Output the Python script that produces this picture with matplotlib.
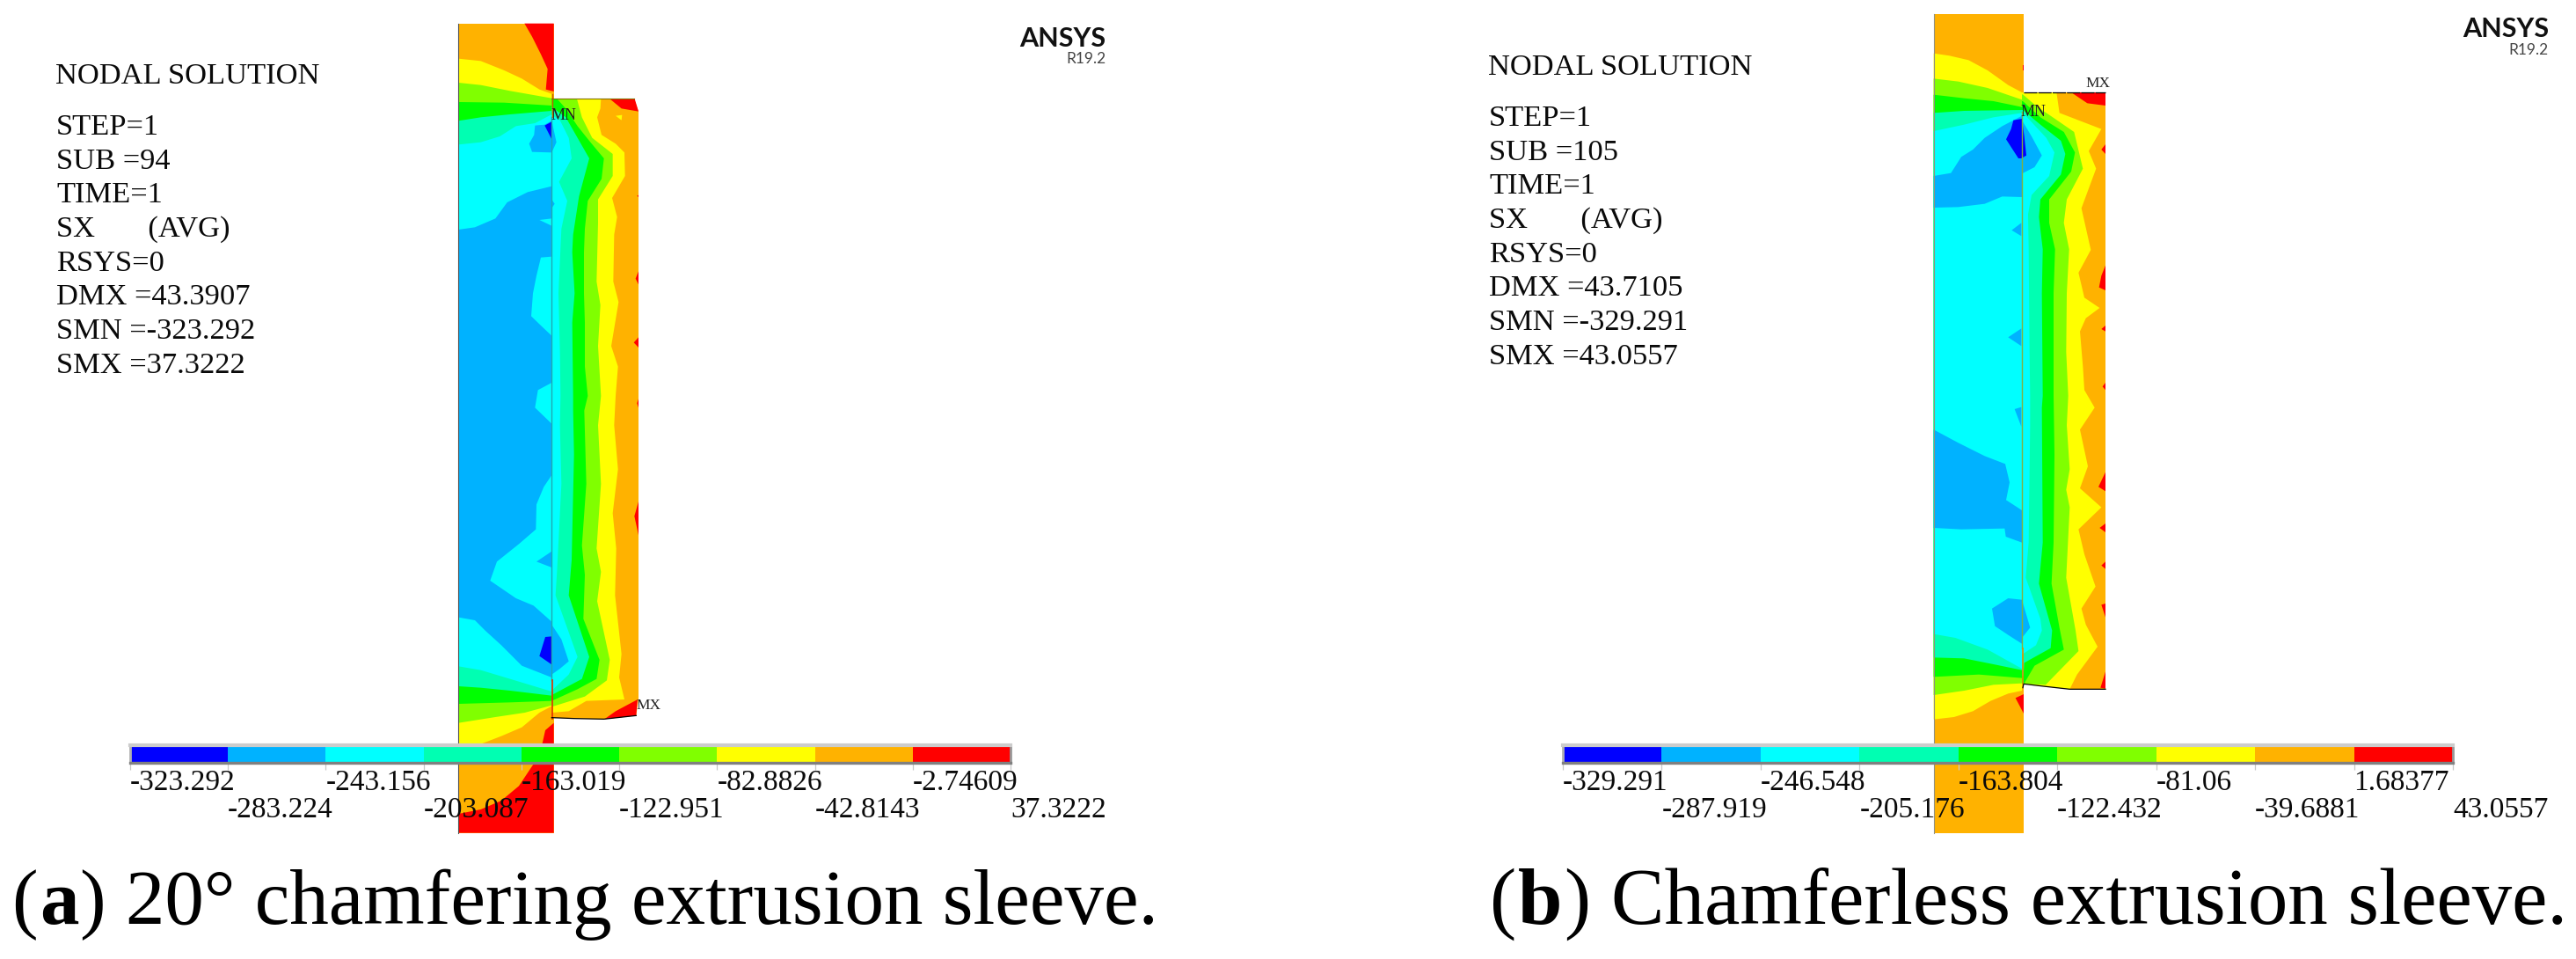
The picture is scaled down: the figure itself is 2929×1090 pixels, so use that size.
import matplotlib
matplotlib.use("Agg")
import matplotlib.pyplot as plt
from matplotlib.patches import Polygon

W, H = 2929, 1090

# contour colours, low to high
BLUE, AZURE, CYAN, SPRING = "#0000FF", "#00B2FF", "#00FFFF", "#00FFB2"
GREEN, LIME, YELLOW, ORANGE, RED = "#00FF00", "#80FF00", "#FFFF00", "#FFB200", "#FF0000"
band_colors = [BLUE, AZURE, CYAN, SPRING, GREEN, LIME, YELLOW, ORANGE, RED]

# colour bar values
levels_a = [-323.292, -283.224, -243.156, -203.087, -163.019, -122.951, -82.8826, -42.8143, -2.74609, 37.3222]
labels_a = ["-323.292", "-283.224", "-243.156", "-203.087", "-163.019", "-122.951", "-82.8826", "-42.8143", "-2.74609", "37.3222"]
levels_b = [-329.291, -287.919, -246.548, -205.176, -163.804, -122.432, -81.06, -39.6881, 1.68377, 43.0557]
labels_b = ["-329.291", "-287.919", "-246.548", "-205.176", "-163.804", "-122.432", "-81.06", "-39.6881", "1.68377", "43.0557"]

# solution text
info_a = ["STEP=1", "SUB =94", "TIME=1", "SX       (AVG)", "RSYS=0", "DMX =43.3907", "SMN =-323.292", "SMX =37.3222"]
info_b = ["STEP=1", "SUB =105", "TIME=1", "SX       (AVG)", "RSYS=0", "DMX =43.7105", "SMN =-329.291", "SMX =43.0557"]

# ---- panel a, contour outlines (model units) ----
a_left_block = [(124, 80), (449, 80), (449, 2840), (124, 2840)]
a_left_yellow = [(124, 200), (200, 208), (280, 240), (340, 268), (400, 305), (442, 320),
                 (442, 2408), (400, 2430), (340, 2480), (270, 2510), (205, 2535), (124, 2560)]
a_left_lime = [(124, 282), (200, 290), (300, 310), (442, 335),
               (442, 2405), (350, 2430), (250, 2445), (124, 2465)]
a_left_green = [(124, 348), (280, 350), (442, 360), (442, 2390), (300, 2395), (124, 2400)]
a_left_spring = [(124, 412), (200, 400), (300, 390), (442, 378),
                 (442, 2372), (300, 2355), (200, 2345), (124, 2340)]
a_left_cyan = [(124, 493), (200, 485), (265, 465), (320, 430), (385, 420), (442, 390),
               (442, 2358), (300, 2315), (200, 2285), (124, 2272)]
a_left_azure = [(124, 783), (180, 775), (250, 745), (290, 690), (360, 655), (442, 635), (442, 2310),
                (340, 2270), (270, 2200), (215, 2150), (180, 2115), (124, 2105)]
a_cyan_islands = [
    [(400, 750), (442, 745), (442, 770)],
    [(405, 878), (442, 875), (442, 1145), (405, 1110), (372, 1078), (378, 1000), (390, 940)],
    [(395, 1330), (442, 1305), (442, 1445), (385, 1390)],
    [(442, 1620), (415, 1660), (390, 1720), (388, 1805), (330, 1855), (255, 1915), (232, 1980),
     (320, 2040), (380, 2065), (442, 2120)],
]
a_azure_spots = [
    [(442, 1880), (390, 1915), (442, 1935)],
    [(385, 428), (418, 425), (442, 412), (458, 485), (442, 520), (375, 518), (365, 490), (382, 460)],
    [(442, 2130), (475, 2180), (500, 2255), (470, 2280), (442, 2300)],
    [(442, 680), (452, 695), (442, 710)],
]
a_blue_spots = [
    [(418, 428), (442, 415), (442, 475)],
    [(420, 2172), (442, 2170), (442, 2266), (400, 2237)],
]
a_left_red = [
    [(349, 80), (449, 80), (449, 312), (422, 305), (428, 235), (405, 185), (375, 125)],
    [(449, 2465), (420, 2490), (410, 2535), (380, 2605), (330, 2680), (270, 2730), (200, 2760),
     (124, 2775), (124, 2840), (449, 2840)],
]
a_right_block = [(442, 337), (723, 337), (738, 380), (738, 2385), (730, 2440), (620, 2452), (520, 2450), (442, 2447)]
a_right_yellow = [(610, 337), (608, 370), (597, 400), (612, 460), (660, 490), (690, 520), (692, 600), (648, 675),
                  (665, 740), (655, 800), (652, 960), (670, 1030), (645, 1180), (668, 1250), (660, 1350), (655, 1450),
                  (668, 1600), (650, 1750), (662, 1870), (658, 2030), (680, 2230), (672, 2310), (690, 2385),
                  (560, 2390), (500, 2425), (443, 2430)]
a_right_lime = [(528, 337), (545, 400), (580, 470), (650, 525), (650, 600), (600, 680), (600, 760), (595, 960),
                (608, 1040), (600, 1180), (610, 1350), (600, 1450), (610, 1650), (595, 1870), (610, 1950),
                (597, 2050), (640, 2250), (630, 2320), (555, 2375), (442, 2410)]
a_right_green = [(460, 337), (490, 370), (530, 430), (570, 480), (620, 540), (612, 610), (565, 685), (555, 780),
                 (552, 860), (552, 1000), (555, 1100), (555, 1250), (565, 1350), (553, 1400), (560, 1650),
                 (545, 1860), (555, 1960), (550, 2110), (605, 2250), (595, 2315), (530, 2350), (442, 2390)]
a_right_spring = [(442, 365), (490, 400), (570, 540), (535, 670), (515, 800), (512, 860), (520, 1000), (512, 1100),
                  (515, 1350), (515, 1400), (518, 1550), (510, 1910), (500, 2030), (570, 2240), (545, 2315), (442, 2370)]
a_right_cyan = [(442, 392), (470, 410), (500, 470), (510, 540), (467, 620), (495, 685), (475, 780), (465, 1000),
                (470, 1200), (472, 1350), (470, 1450), (475, 1650), (460, 1950), (455, 2030), (530, 2240),
                (500, 2300), (442, 2355)]
a_right_red = [
    [(640, 337), (725, 337), (738, 380), (680, 370)],
    [(622, 2452), (660, 2425), (735, 2385), (730, 2440)],
    [(738, 925), (728, 950), (738, 970)],
    [(738, 1150), (722, 1168), (738, 1185)],
    [(738, 1710), (724, 1760), (738, 1825)],
    [(738, 665), (733, 668), (738, 672)],
    [(738, 1360), (733, 1375), (738, 1390)],
]
a_yellow_speck = [(660, 395), (682, 392), (680, 410)]

# ---- panel b ----
b_left_block = [(146, 48), (453, 48), (453, 2840), (146, 2840)]
b_left_yellow = [(146, 182), (200, 190), (265, 205), (330, 240), (400, 290), (447, 315),
                 (447, 2355), (400, 2365), (340, 2390), (280, 2425), (215, 2445), (146, 2453)]
b_left_lime = [(146, 268), (230, 278), (330, 300), (447, 340), (447, 2330), (350, 2335), (250, 2355), (146, 2370)]
b_left_green = [(146, 323), (250, 335), (350, 345), (447, 365), (447, 2312), (300, 2300), (146, 2308)]
b_left_spring = [(146, 385), (250, 378), (447, 375), (447, 2285), (350, 2265), (250, 2245), (146, 2242)]
b_left_cyan = [(146, 447), (250, 425), (350, 400), (447, 385), (447, 2280), (330, 2215), (220, 2175), (146, 2162)]
b_azure_spots = [
    [(447, 395), (380, 430), (320, 470), (280, 510), (240, 535), (205, 590), (146, 600), (146, 708),
     (230, 706), (320, 695), (380, 670), (447, 672)],
    [(445, 760), (412, 785), (445, 805)],
    [(445, 1120), (400, 1150), (445, 1180)],
    [(445, 1388), (422, 1395), (445, 1455)],
    [(146, 1465), (230, 1510), (320, 1555), (390, 1582), (405, 1645), (393, 1705), (447, 1740), (447, 1850),
     (392, 1830), (388, 1802), (240, 1805), (146, 1800)],
    [(400, 2040), (447, 2045), (475, 2140), (447, 2175), (447, 2195), (400, 2165), (355, 2135), (345, 2075)],
    [(447, 592), (490, 570), (515, 530), (480, 465), (447, 410)],
]
b_blue_spots = [[(418, 410), (447, 405), (455, 465), (462, 530), (445, 540), (435, 540), (393, 475), (410, 440)]]
b_left_red = [
    [(453, 222), (449, 222), (449, 240), (453, 240)],
    [(425, 2380), (453, 2367), (453, 2433)],
]
b_right_block = [(447, 315), (732, 315), (732, 2350), (610, 2350), (520, 2340), (453, 2332), (447, 2332)]
b_right_yellow = [(565, 315), (575, 385), (640, 410), (718, 440), (675, 515), (700, 575), (650, 710), (682, 852),
                  (640, 930), (660, 1015), (712, 1050), (665, 1085), (645, 1130), (655, 1250), (660, 1330),
                  (695, 1390), (645, 1465), (672, 1590), (645, 1665), (718, 1730), (640, 1805), (660, 1890),
                  (698, 2000), (650, 2075), (665, 2130), (705, 2205), (635, 2300), (610, 2350), (520, 2340), (453, 2332)]
b_right_lime = [(450, 322), (500, 365), (545, 395), (625, 450), (655, 575), (600, 680), (590, 760), (608, 850),
                (600, 1000), (598, 1200), (605, 1350), (600, 1450), (610, 1600), (598, 1670), (610, 1730),
                (598, 1970), (630, 2150), (640, 2220), (528, 2335), (453, 2332)]
b_right_green = [(450, 345), (510, 400), (590, 450), (628, 520), (615, 585), (540, 680), (540, 760), (560, 850),
                 (555, 1000), (555, 1350), (558, 1550), (555, 1850), (548, 1990), (575, 2140), (590, 2215),
                 (490, 2270), (455, 2330)]
b_right_spring = [(450, 375), (510, 425), (580, 480), (595, 525), (580, 595), (510, 680), (505, 740), (518, 850),
                  (515, 1000), (518, 1350), (515, 1390), (518, 1850), (505, 1990), (550, 2150), (545, 2210),
                  (455, 2260), (452, 2305)]
b_right_cyan = [(460, 395), (530, 470), (558, 520), (540, 600), (480, 665), (468, 730), (470, 850), (473, 1200),
                (475, 1350), (475, 1450), (470, 1850), (460, 1970), (510, 2110), (515, 2150), (495, 2200), (450, 2230)]
b_right_red = [
    [(615, 315), (732, 315), (732, 360), (670, 352)],
    [(732, 492), (718, 510), (732, 525)],
    [(732, 905), (732, 990), (710, 980), (718, 940)],
    [(732, 1110), (718, 1122), (732, 1130)],
    [(732, 1305), (722, 1318), (732, 1330)],
    [(732, 1610), (708, 1660), (732, 1675)],
    [(732, 1785), (712, 1800), (732, 1815)],
    [(732, 1915), (718, 1928), (732, 1940)],
    [(732, 2058), (718, 2062), (732, 2105)],
    [(732, 2290), (715, 2345), (732, 2348)],
]

fig = plt.figure(figsize=(W / 100, H / 100), dpi=100, facecolor="white")
plt.rcParams["font.family"] = ["Liberation Serif", "DejaVu Serif"]


def px_axes(x0, y0, x1, y1):
    # axes placed by picture pixels
    return fig.add_axes([x0 / W, 1 - y1 / H, (x1 - x0) / W, (y1 - y0) / H])


def fill(ax, pts, color):
    ax.add_patch(Polygon(pts, closed=True, facecolor=color, edgecolor="none"))


def band(ax, curve, xi, color):
    # region between the interface line and a contour curve
    pts = [(xi, curve[0][1])] + curve + [(xi, curve[-1][1])]
    fill(ax, pts, color)


def model_axes(x0):
    ax = px_axes(x0, 0, x0 + 300, 950)
    ax.set_xlim(0, 900)
    ax.set_ylim(2850, 0)
    ax.axis("off")
    return ax


def colorbar(x0, x1, levels, labels):
    ax = px_axes(x0, 847, x1, 867)
    ax.bar(levels[:-1], 1, width=[levels[i + 1] - levels[i] for i in range(9)], align="edge", color=band_colors)
    ax.set_xlim(levels[0], levels[-1])
    ax.set_ylim(0, 1)
    ax.patch.set_visible(False)
    ax.set_yticks([])
    ax.set_xticks(levels)
    ax.set_xticklabels([])
    ax.tick_params(axis="x", length=5.5, width=0.9, color="#C8C8C8")
    ax.spines["top"].set_color("#CCCCCC")
    ax.spines["top"].set_linewidth(3)
    ax.spines["bottom"].set_color("#808080")
    ax.spines["bottom"].set_linewidth(2.4)
    ax.spines["left"].set_color("#B0B0B0")
    ax.spines["left"].set_linewidth(2)
    ax.spines["right"].set_color("#989898")
    ax.spines["right"].set_linewidth(2)
    for i, lab in enumerate(labels):
        base = 898 if i % 2 == 0 else 929
        ax.text(levels[i], 1 - (base - 847) / 20, lab, transform=ax.get_xaxis_transform(),
                ha="left", va="baseline", fontsize=24, color="#0A0A0A", clip_on=False)


def caption(x, y, pieces, size):
    # bold panel letter followed by normal text
    r = fig.canvas.get_renderer()
    for s, weight in pieces:
        t = fig.text(x / W, 1 - y / H, s, fontsize=size, fontweight=weight, va="baseline", color="black")
        t.set_parse_math(False)
        x = t.get_window_extent(r).x1 + 2


# panel a
ax_a = model_axes(480)
fill(ax_a, a_left_block, ORANGE)
for pts in a_left_red:
    fill(ax_a, pts, RED)
fill(ax_a, a_left_yellow, YELLOW)
fill(ax_a, a_left_lime, LIME)
fill(ax_a, a_left_green, GREEN)
fill(ax_a, a_left_spring, SPRING)
fill(ax_a, a_left_cyan, CYAN)
fill(ax_a, a_left_azure, AZURE)
for pts in a_cyan_islands:
    fill(ax_a, pts, CYAN)
fill(ax_a, a_right_block, ORANGE)
for pts in a_right_red:
    fill(ax_a, pts, RED)
band(ax_a, a_right_yellow, 442, YELLOW)
fill(ax_a, a_yellow_speck, YELLOW)
band(ax_a, a_right_lime, 442, LIME)
band(ax_a, a_right_green, 442, GREEN)
band(ax_a, a_right_spring, 442, SPRING)
band(ax_a, a_right_cyan, 442, CYAN)
for pts in a_azure_spots:
    fill(ax_a, pts, AZURE)
for pts in a_blue_spots:
    fill(ax_a, pts, BLUE)
ax_a.plot([442, 442], [400, 2320], color="#20A8B0", lw=1)
ax_a.plot([443, 443], [320, 400], color="#C06000", lw=1)
ax_a.plot([443, 443], [2320, 2450], color="#E03000", lw=1.2)
ax_a.plot([124, 124], [80, 2840], color="#505050", lw=0.8)
ax_a.plot([442, 723], [337, 337], color="#807000", lw=0.8)
ax_a.plot([442, 520, 620, 730], [2447, 2450, 2452, 2440], color="black", lw=0.9)
ax_a.text(441, 408, "MN", fontsize=13, va="baseline", color="#222222")
ax_a.text(729, 2417, "MX", fontsize=12.5, va="baseline", color="#222222")

# panel b
ax_b = model_axes(2150)
fill(ax_b, b_left_block, ORANGE)
for pts in b_left_red:
    fill(ax_b, pts, RED)
fill(ax_b, b_left_yellow, YELLOW)
fill(ax_b, b_left_lime, LIME)
fill(ax_b, b_left_green, GREEN)
fill(ax_b, b_left_spring, SPRING)
fill(ax_b, b_left_cyan, CYAN)
fill(ax_b, b_right_block, ORANGE)
for pts in b_right_red:
    fill(ax_b, pts, RED)
band(ax_b, b_right_yellow, 447, YELLOW)
band(ax_b, b_right_lime, 447, LIME)
band(ax_b, b_right_green, 447, GREEN)
band(ax_b, b_right_spring, 447, SPRING)
band(ax_b, b_right_cyan, 447, CYAN)
for pts in b_azure_spots:
    fill(ax_b, pts, AZURE)
for pts in b_blue_spots:
    fill(ax_b, pts, BLUE)
ax_b.plot([447, 447], [380, 2210], color="#80B040", lw=1)
ax_b.plot([450, 450], [2210, 2330], color="#E09000", lw=1.2)
ax_b.plot([146, 146], [48, 2840], color="#909080", lw=0.8)
ax_b.plot([453, 732], [315, 315], color="black", lw=0.9, ls=(0, (12, 1)))
ax_b.plot([450, 453, 520, 610, 732], [2345, 2332, 2340, 2350, 2350], color="black", lw=0.9)
ax_b.text(444, 396, "MN", fontsize=13, va="baseline", color="#222222")
ax_b.text(663, 298, "MX", fontsize=12.5, va="baseline", color="#222222")

colorbar(148, 1149, levels_a, labels_a)
colorbar(1777, 2789, levels_b, labels_b)

# text blocks
fig.text(63 / W, 1 - 95 / H, "NODAL SOLUTION", fontsize=24.8, va="baseline", color="#0A0A0A")
for i, s in enumerate(info_a):
    fig.text(64 / W, 1 - (153 + i * 38.7) / H, s, fontsize=24.8, va="baseline", color="#0A0A0A")
fig.text(1692 / W, 1 - 85 / H, "NODAL SOLUTION", fontsize=24.8, va="baseline", color="#0A0A0A")
for i, s in enumerate(info_b):
    fig.text(1693 / W, 1 - (143 + i * 38.7) / H, s, fontsize=24.8, va="baseline", color="#0A0A0A")

# logo
logo_font = ["Lato", "DejaVu Sans"]
fig.text(1257 / W, 1 - 53 / H, "ANSYS", fontsize=22, fontweight="bold", family=logo_font, ha="right", va="baseline", color="#111111")
fig.text(1257 / W, 1 - 72 / H, "R19.2", fontsize=12.5, family=logo_font, ha="right", va="baseline", color="#444444")
fig.text(2898 / W, 1 - 42 / H, "ANSYS", fontsize=22, fontweight="bold", family=logo_font, ha="right", va="baseline", color="#111111")
fig.text(2898 / W, 1 - 62 / H, "R19.2", fontsize=12.5, family=logo_font, ha="right", va="baseline", color="#444444")

caption(13, 1050, [("(", "normal"), ("a", "bold"), (") 20° chamfering extrusion sleeve.", "normal")], 64.2)
caption(1694, 1050, [("(", "normal"), ("b", "bold"), (") Chamferless extrusion sleeve.", "normal")], 65.3)

fig.savefig("out.png", dpi=100)
